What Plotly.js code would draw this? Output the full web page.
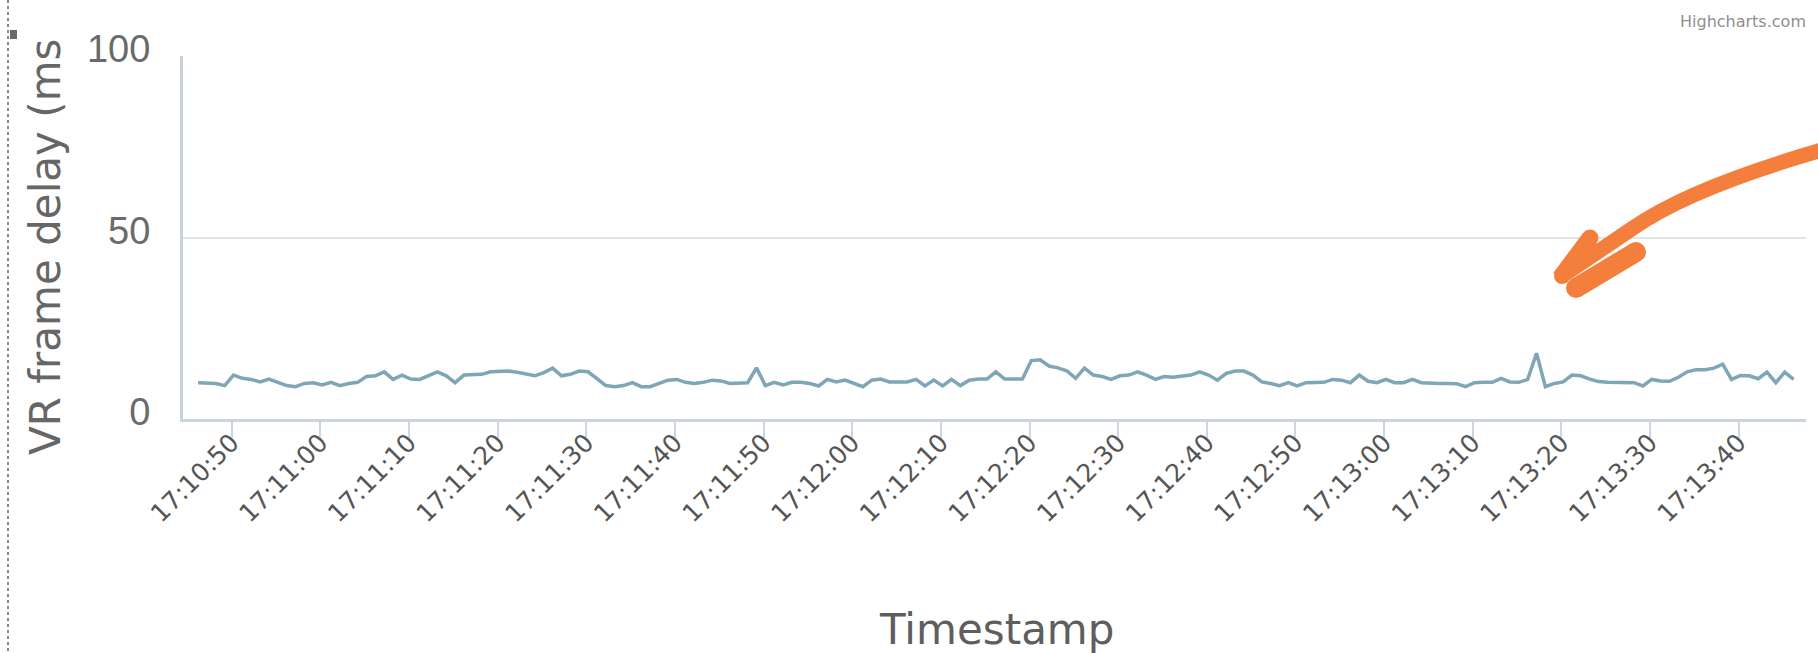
<!DOCTYPE html>
<html>
<head>
<meta charset="utf-8">
<script src="https://cdn.plot.ly/plotly-3.0.1.min.js"></script>
<style>
html,body{margin:0;padding:0;background:#fff;}
#chart{width:1818px;height:653px;}
</style>
</head>
<body>
<div id="chart"></div>
<script>
// ---- data ----
const seriesName = "VR frame delay";
const startTime = "2017-06-01 17:10:46.200"; // first sample
const sampleStepMs = 1000;                   // one sample per second
const frameDelayMs = [
  10.0,10.0,9.8,9.2,12.1,11.2,10.9,10.2,11.0,10.1,
  9.2,8.9,9.8,10.0,9.4,10.1,9.2,9.8,10.1,11.7,
  11.9,13.0,10.9,12.1,11.0,10.9,11.9,13.0,11.9,10.0,
  12.1,12.1,12.3,13.0,13.2,13.2,12.9,12.4,11.9,12.8,
  14.0,11.9,12.3,13.2,13.0,11.1,9.2,8.9,9.2,10.0,
  8.9,8.9,9.8,10.7,10.9,10.1,9.8,10.1,10.7,10.5,
  9.8,9.8,10.0,14.1,9.2,10.1,9.4,10.1,10.1,9.8,
  9.1,10.9,10.2,10.7,9.8,8.9,10.7,11.0,10.2,10.1,
  10.2,10.9,9.1,10.7,9.1,10.9,9.2,10.7,11.0,11.0,
  13.0,11.0,11.0,11.0,16.1,16.3,14.6,14.1,13.3,11.2,
  14.0,12.1,11.7,10.9,11.9,12.1,13.0,12.1,10.9,11.7,
  11.5,11.9,12.1,13.0,12.1,10.7,12.6,13.2,13.2,12.1,
  10.2,9.8,9.2,10.0,9.1,10.0,10.1,10.1,10.9,10.7,
  10.0,12.1,10.4,10.0,10.9,10.0,10.0,10.9,10.0,9.8,
  9.8,9.8,9.7,8.9,10.0,10.1,10.1,11.2,10.2,10.1,
  10.9,18.1,8.9,9.8,10.2,12.1,11.9,11.0,10.3,10.1,
  10.1,10.1,10.0,9.1,10.9,10.5,10.4,11.5,13.0,13.6,
  13.6,14.0,15.1,10.9,12.0,11.9,11.1,12.9,10.0,12.9,
  10.9
];
const yTickValues = [0, 50, 100];
const xRange = ["2017-06-01 17:10:44.5", "2017-06-01 17:13:47.6"];
const xTick0 = "2017-06-01 17:10:50";
const xTitle = "Timestamp";
const yTitle = "VR frame delay (ms";
const creditText = "Highcharts.com";

// timestamps of the samples
const t0 = new Date(startTime.replace(" ", "T")).getTime();
function fmt(ms){
  const d = new Date(ms);
  const p = (n,w=2)=>String(n).padStart(w,"0");
  return d.getFullYear()+"-"+p(d.getMonth()+1)+"-"+p(d.getDate())+" "+
         p(d.getHours())+":"+p(d.getMinutes())+":"+p(d.getSeconds())+"."+p(d.getMilliseconds(),3);
}
const timestamps = frameDelayMs.map((_, i) => fmt(t0 + i * sampleStepMs));

// ---- layout geometry (pixels) ----
const W = 1818, H = 653;
const L = 183, R = 1806, T = 56, B = 419;
const pw = R - L, ph = B - T;
const px = x => (x - L) / pw;
const py = y => (B - y) / ph;

const trace = {
  x: timestamps,
  y: frameDelayMs,
  type: "scatter",
  mode: "lines",
  name: seriesName,
  line: {color: "#7ea6b6", width: 3.5},
  hoverinfo: "x+y"
};

// hand-drawn orange arrow (decoration on the screenshot)
const ORANGE = "#f47f3c";
const arrowPath =
  "M" + px(1822) + "," + py(150) +
  " Q" + px(1690) + "," + py(188) + " " + px(1633) + "," + py(228) +
  " Q" + px(1592) + "," + py(256) + " " + px(1562) + "," + py(276);
function dot(x, y, r){
  return {type: "circle", xref: "paper", yref: "paper",
          x0: px(x - r), x1: px(x + r), y0: py(y + r), y1: py(y - r),
          fillcolor: ORANGE, line: {width: 0}, layer: "above"};
}
function stroke(x0, y0, x1, y1, w){
  return {type: "line", xref: "paper", yref: "paper",
          x0: px(x0), y0: py(y0), x1: px(x1), y1: py(y1),
          line: {color: ORANGE, width: w}, layer: "above"};
}

const layout = {
  width: W, height: H,
  margin: {l: L, r: W - R, t: T, b: H - B, pad: 0},
  paper_bgcolor: "#ffffff",
  plot_bgcolor: "#ffffff",
  showlegend: false,
  font: {family: "DejaVu Sans, sans-serif", color: "#606060"},
  xaxis: {
    type: "date",
    range: xRange,
    tick0: xTick0,
    dtick: 10000,
    tickformat: "%H:%M:%S",
    tickangle: -45,
    tickfont: {size: 25, color: "#555555", family: "DejaVu Sans, sans-serif"},
    ticks: "outside",
    ticklen: 16,
    tickwidth: 2,
    tickcolor: "#ccd6dc",
    ticklabelstandoff: -20,
    showgrid: false,
    showline: true,
    linecolor: "#cbd6dc",
    linewidth: 3,
    zeroline: false,
    fixedrange: true
  },
  yaxis: {
    range: [0, 100],
    tickvals: yTickValues,
    ticktext: yTickValues.map(String),
    tickfont: {size: 38, color: "#6a6a6a", family: "Liberation Sans, Arial, sans-serif"},
    ticks: "",
    ticklabelstandoff: 22,
    ticklabelshift: -7,
    showgrid: true,
    gridcolor: "#e0e4e7",
    gridwidth: 2,
    showline: true,
    linecolor: "#c6d3da",
    linewidth: 3,
    zeroline: false,
    fixedrange: true
  },
  annotations: [
    {text: xTitle, xref: "paper", yref: "paper", x: px(996), y: py(629),
     xanchor: "center", yanchor: "middle", showarrow: false,
     font: {size: 42, color: "#5e5e5e", family: "DejaVu Sans, sans-serif"}},
    {text: yTitle, xref: "paper", yref: "paper", x: px(45), y: py(457),
     xanchor: "center", yanchor: "bottom", textangle: -90, showarrow: false,
     font: {size: 42, color: "#666666", family: "DejaVu Sans, sans-serif"}},
    {text: creditText, xref: "paper", yref: "paper", x: px(1808), y: py(21),
     xanchor: "right", yanchor: "middle", showarrow: false,
     font: {size: 16, color: "#8f8f8f", family: "DejaVu Sans, sans-serif"}}
  ],
  shapes: [
    // dotted frame edge of the screenshot
    {type: "line", xref: "paper", yref: "paper", x0: px(8), x1: px(8), y0: py(0), y1: py(653),
     line: {color: "#8a8a8a", width: 2, dash: "dot"}},
    {type: "rect", xref: "paper", yref: "paper", x0: px(10), x1: px(17), y0: py(30), y1: py(39),
     fillcolor: "#6a6a6a", line: {width: 0}},
    {type: "path", xref: "paper", yref: "paper", path: arrowPath,
     line: {color: ORANGE, width: 15}, layer: "above"},
    dot(1562, 276, 8),
    stroke(1590, 238, 1560, 278, 17),
    dot(1590, 238, 8.5),
    stroke(1636, 252, 1576, 288, 20),
    dot(1636, 252, 10),
    dot(1576, 288, 10)
  ]
};

Plotly.newPlot("chart", [trace], layout, {displayModeBar: false, staticPlot: true});
</script>
</body>
</html>
